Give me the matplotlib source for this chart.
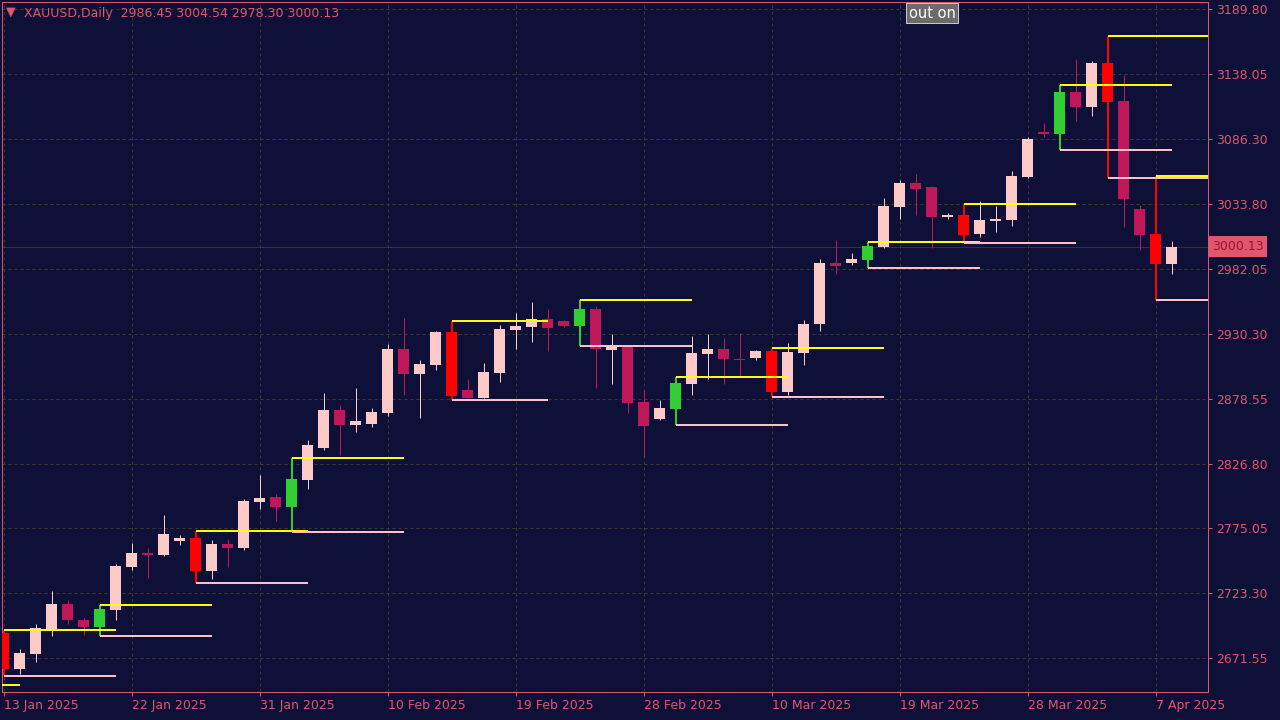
import matplotlib
matplotlib.use("Agg")
import matplotlib.pyplot as plt
import matplotlib.transforms as mtransforms

# daily XAUUSD bars, 13 Jan 2025 .. 8 Apr 2025 (broker has Sunday bars)
opens = [2691.8, 2662.8, 2674.8, 2693.9, 2714.7, 2701.9, 2696.3, 2709.9, 2744.2, 2755.4,
         2753.8, 2765.0, 2767.4, 2741.3, 2762.6, 2759.4, 2796.1, 2800.1, 2792.2, 2813.7,
         2839.3, 2869.6, 2857.6, 2858.4, 2867.2, 2918.3, 2898.4, 2905.5, 2931.9, 2885.6,
         2879.2, 2899.2, 2933.5, 2935.9, 2942.3, 2940.7, 2936.7, 2950.3, 2917.5, 2919.9,
         2876.0, 2862.4, 2870.4, 2890.4, 2914.3, 2918.3, 2910.3, 2911.1, 2916.7, 2884.0,
         2915.1, 2938.3, 2987.0, 2987.0, 2989.4, 2999.8, 3031.7, 3050.9, 3047.7, 3023.7,
         3025.3, 3010.1, 3020.5, 3021.3, 3055.7, 3091.6, 3090.0, 3123.5, 3111.5, 3146.7,
         3116.3, 3030.1, 3010.1, 2986.45]
highs = [2693.9, 2678.8, 2698.7, 2725.1, 2717.9, 2703.5, 2713.9, 2746.6, 2763.4, 2759.4,
         2785.8, 2769.8, 2773.0, 2765.8, 2766.6, 2798.5, 2817.7, 2802.5, 2830.9, 2845.6,
         2883.2, 2873.6, 2887.2, 2871.2, 2922.3, 2943.1, 2909.5, 2932.7, 2940.7, 2894.4,
         2907.1, 2937.5, 2947.1, 2955.8, 2950.3, 2941.5, 2957.4, 2952.7, 2930.3, 2920.3,
         2885.6, 2877.6, 2896.0, 2928.7, 2930.3, 2927.1, 2931.1, 2917.5, 2919.1, 2923.1,
         2941.5, 2990.2, 3005.4, 2995.0, 3003.8, 3038.9, 3053.3, 3058.0, 3048.5, 3026.9,
         3034.1, 3036.5, 3032.5, 3060.5, 3087.6, 3098.8, 3129.1, 3149.9, 3148.3, 3168.2,
         3137.1, 3033.3, 3056.5, 3004.54]
lows = [2657.2, 2659.0, 2668.4, 2689.1, 2698.7, 2689.9, 2689.1, 2701.9, 2741.9, 2735.5,
        2753.0, 2761.8, 2731.5, 2734.9, 2744.5, 2757.8, 2790.6, 2781.0, 2771.8, 2806.5,
        2837.7, 2833.7, 2852.0, 2856.0, 2864.8, 2881.6, 2863.2, 2901.6, 2877.2, 2879.0,
        2879.0, 2892.0, 2918.3, 2923.9, 2916.7, 2935.9, 2920.7, 2887.2, 2890.4, 2867.2,
        2832.1, 2861.6, 2858.0, 2881.6, 2894.4, 2890.4, 2896.0, 2909.5, 2880.0, 2881.6,
        2905.5, 2932.7, 2978.2, 2985.4, 2982.6, 2999.0, 3022.1, 3025.3, 2999.0, 3022.1,
        3002.9, 3007.8, 3011.7, 3016.5, 3054.9, 3087.6, 3077.2, 3100.4, 3104.4, 3054.9,
        3015.7, 2997.4, 2957.4, 2978.30]
closes = [2662.8, 2675.6, 2695.5, 2714.7, 2701.9, 2696.3, 2710.7, 2745.0, 2755.4, 2753.8,
          2770.6, 2767.4, 2741.1, 2762.6, 2759.4, 2796.9, 2799.3, 2792.2, 2814.5, 2841.7,
          2869.6, 2857.6, 2860.8, 2868.0, 2918.3, 2898.4, 2906.3, 2931.9, 2880.8, 2879.2,
          2900.0, 2934.3, 2936.7, 2942.3, 2935.1, 2936.7, 2950.3, 2918.3, 2919.9, 2875.2,
          2856.8, 2871.2, 2891.2, 2915.1, 2918.3, 2910.3, 2909.5, 2916.7, 2884.0, 2915.9,
          2938.3, 2987.0, 2984.6, 2990.2, 3000.6, 3032.5, 3050.9, 3046.1, 3023.7, 3025.3,
          3009.3, 3021.3, 3022.1, 3056.5, 3086.0, 3090.0, 3123.5, 3111.5, 3146.7, 3115.5,
          3038.1, 3009.3, 2986.45, 3000.13]

# bars marked by the indicator, and the bar where their high/low levels stop
marked_bars = [0, 6, 12, 18, 28, 36, 42, 48, 54, 60, 66, 69, 72]
level_ends = [7, 13, 19, 25, 34, 43, 49, 55, 61, 67, 73, 76, 76]
prev_level = 2650.0  # high of a marked bar left of the window
prev_level_span = (-6, 1)

date_labels = ["13 Jan 2025", "22 Jan 2025", "31 Jan 2025", "10 Feb 2025", "19 Feb 2025",
               "28 Feb 2025", "10 Mar 2025", "19 Mar 2025", "28 Mar 2025", "7 Apr 2025"]
price_ticks = [3189.80, 3138.05, 3086.30, 3033.80, 2982.05, 2930.30, 2878.55,
               2826.80, 2775.05, 2723.30, 2671.55]
bid = 3000.13

BG = "#0e1038"
AXC = "#e0566c"
BULL = "#fccbc8"
BEAR = "#c0175a"
GRID = "#3e3a2c"
PX = 72 / 100  # one pixel in points

fig = plt.figure(figsize=(12.8, 7.2), dpi=100, facecolor=BG)
ax = fig.add_axes([2 / 1280, 28 / 720, 1206 / 1280, 690 / 720], facecolor=BG)

n = len(opens)
body_w = 0.69
for i in range(n):
    o, h, l, c = opens[i], highs[i], lows[i], closes[i]
    if i in marked_bars:
        col = "#32cd32" if c > o else "#ff0000"
        wlw = 2 * PX
    else:
        col = BULL if c >= o else BEAR
        wlw = PX
    ax.vlines(i, l, h, color=col, lw=wlw, zorder=2)
    ax.bar(i, max(abs(c - o), 0.8), bottom=min(o, c), width=body_w,
           color=col, linewidth=0, zorder=3)

# indicator levels: yellow at high, pink at low
for b, e in zip(marked_bars, level_ends):
    ax.hlines(highs[b], b, e, color="#ffff00", lw=2 * PX, zorder=4)
    ax.hlines(lows[b], b, e, color="#ffc0cb", lw=2 * PX, zorder=4)
ax.hlines(prev_level, prev_level_span[0], prev_level_span[1], color="#ffff00", lw=2 * PX, zorder=4)

# bid line
ax.axhline(bid, color="#3b331c", lw=PX, zorder=1)

ax.set_xlim(-0.094, 75.28)
ax.set_ylim(2644.43, 3195.39)

ax.set_xticks(range(0, 8 * len(date_labels), 8))
ax.set_xticklabels(date_labels, ha="left")
ax.yaxis.tick_right()
ax.set_yticks(price_ticks)
ax.set_yticklabels(["%.2f" % p for p in price_ticks])
ax.tick_params(axis="both", colors=AXC, labelcolor=AXC, labelsize=9, length=3, width=PX)
ax.tick_params(axis="y", pad=3)
ax.tick_params(axis="x", pad=2)
ax.grid(True, color=GRID, linestyle=(0, (3, 3)), lw=PX, zorder=0)
for s in ax.spines.values():
    s.set_color(AXC)
    s.set_linewidth(PX)

# bid label on the price scale
trans = mtransforms.blended_transform_factory(ax.transAxes, ax.transData)
ax.text(1.003, bid, "%.2f" % bid, transform=trans, ha="left", va="center", fontsize=9,
        color="#9a1433", bbox=dict(boxstyle="square,pad=0.3", fc="#e0566c", ec="none"),
        zorder=10, clip_on=False)

# header
fig.text(6 / 1280, 1 - 12 / 720, "\u25bc", color=AXC, fontsize=9, va="center", ha="left")
fig.text(24 / 1280, 1 - 13 / 720, "XAUUSD,Daily  2986.45 3004.54 2978.30 3000.13",
         color=AXC, fontsize=9, va="center", ha="left")
fig.text(932 / 1280, 1 - 13 / 720, "out on", color="white", fontsize=10.5, va="center",
         ha="center", bbox=dict(boxstyle="square,pad=0.18", fc="#6b6b6b", ec="#c8c8c8", lw=PX))

fig.savefig("out.png", dpi=100, facecolor=BG)
